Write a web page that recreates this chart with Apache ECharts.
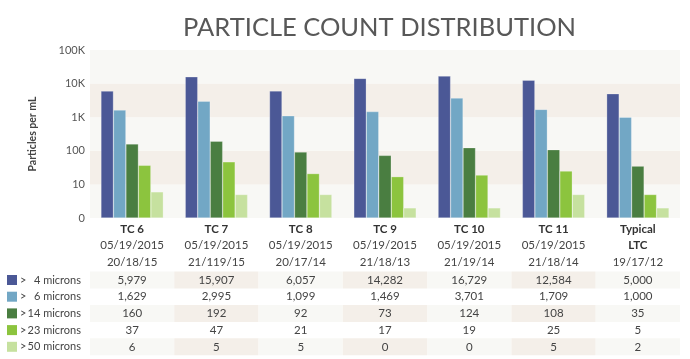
<!DOCTYPE html>
<html><head><meta charset="utf-8">
<script src="https://cdn.jsdelivr.net/npm/echarts@6/dist/echarts.min.js"></script>
<style>html,body{margin:0;padding:0;background:#fff}#c{width:690px;height:359px}</style>
</head><body><div id="c"></div>
<script>
const categories = ['TC 6','TC 7','TC 8','TC 9','TC 10','TC 11','Typical'];
const subLine1 = ['05/19/2015','05/19/2015','05/19/2015','05/19/2015','05/19/2015','05/19/2015','LTC'];
const subLine2 = ['20/18/15','21/119/15','20/17/14','21/18/13','21/19/14','21/18/14','19/17/12'];
const seriesNums = ['4','6','14','23','50'];
const seriesNames = ['> 4 microns','> 6 microns','> 14 microns','> 23 microns','> 50 microns'];
const colors = ['#4b5896','#72a7c5','#4a7e41','#8cc43e','#c6e19f'];
// table values
const m4 = [5979,15907,6057,14282,16729,12584,5000];
const m6 = [1629,2995,1099,1469,3701,1709,1000];
const m14 = [160,192,92,73,124,108,35];
const m23 = [37,47,21,17,19,25,5];
const m50 = [6,5,5,0,0,5,2];
// bar heights as drawn (zero entries are drawn at ~2 on the log axis)
const m50Drawn = [6,5,5,2,2,5,2];
const tableRows = [m4,m6,m14,m23,m50];
const drawnRows = [m4,m6,m14,m23,m50Drawn];
const yTickLabels = {1:'0',10:'10',100:'100',1000:'1K',10000:'10K',100000:'100K'};

const FONT = 'Lato';
const FS = 11.5;
const chart = echarts.init(document.getElementById('c'));
function fmt(n){ return n.toLocaleString('en-US'); }

chart.setOption({
  animation:false,
  title:{text:'PARTICLE COUNT DISTRIBUTION', left:178, top:10,
    textStyle:{fontFamily:FONT, fontSize:25.5, fontWeight:'normal', color:'#585858'}},
  grid:{left:90, right:10, top:50, bottom:141},
  xAxis:{type:'category', data:categories,
    axisLine:{show:false}, axisTick:{show:false},
    axisLabel:{margin:3, interval:0,
      formatter:function(v, i){
        const last = (i === categories.length-1);
        return '{b|'+v+'}\n'+(last?'{b|':'{n|')+subLine1[i]+'}\n{n|'+subLine2[i]+'}';
      },
      rich:{
        b:{fontFamily:FONT, fontWeight:'bold', fontSize:FS, color:'#333', lineHeight:16.5},
        n:{fontFamily:FONT, fontSize:FS, color:'#444', lineHeight:16.5}
      }}
  },
  yAxis:{type:'log', logBase:10, min:1, max:100000,
    name:'Particles per mL', nameLocation:'middle', nameRotate:90, nameGap:52,
    nameTextStyle:{fontFamily:FONT, fontWeight:'bold', fontSize:10.5, color:'#444'},
    axisLine:{show:false}, axisTick:{show:false},
    splitLine:{show:false},
    splitArea:{show:true, areaStyle:{color:['#f8f8f5','#f4efe9']}},
    axisLabel:{fontFamily:FONT, fontSize:11, color:'#555', margin:5,
      formatter:function(v){ return yTickLabels[Math.round(v)] || ''; }}
  },
  series: drawnRows.map((arr, k) => ({
    name: seriesNames[k], type:'bar', data: arr,
    barGap:'0%', barCategoryGap:'26%',
    itemStyle:{color:colors[k], borderColor:'rgba(255,255,255,0.5)', borderWidth:0.5}
  }))
});

// Build data table beneath the chart, aligned to the category axis
const g = [];
const rowY0 = 280, rowH = 16.7;
const catW = chart.convertToPixel({xAxisIndex:0}, 1) - chart.convertToPixel({xAxisIndex:0}, 0);
for (let r = 0; r < tableRows.length; r++) {
  const y = rowY0 + r*rowH;
  g.push({type:'rect', shape:{x:7, y:y-5, width:10, height:10}, style:{fill:colors[r]}});
  g.push({type:'text', style:{text:'>', x:20, y:y, textVerticalAlign:'middle', textAlign:'left',
    font:'11px '+FONT, fill:'#444'}});
  g.push({type:'text', style:{text:seriesNums[r]+' microns', x:81, y:y, textVerticalAlign:'middle', textAlign:'right',
    font:'11px '+FONT, fill:'#444'}});
  for (let i = 0; i < categories.length; i++) {
    const cx = chart.convertToPixel({xAxisIndex:0}, i);
    if (r % 2 === 0) {
      g.push({type:'rect', z:-1, shape:{x:cx-catW/2, y:y-8.5, width:catW, height:17},
        style:{fill: i % 2 === 0 ? '#f8f8f5' : '#f4efe9'}});
    }
    g.push({type:'text', style:{text:fmt(tableRows[r][i]), x:cx, y:y, textAlign:'center', textVerticalAlign:'middle',
      font:FS+'px '+FONT, fill:'#444'}});
  }
}
chart.setOption({graphic:g});
</script></body></html>
